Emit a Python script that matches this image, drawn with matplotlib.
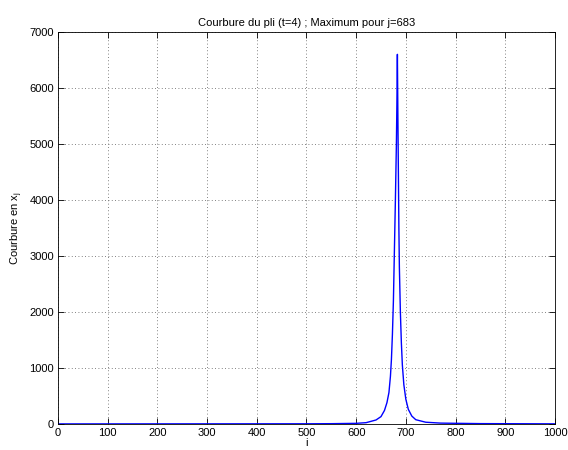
import matplotlib
matplotlib.use('Agg')
import matplotlib.pyplot as plt

# points (index j, curvature)
j_vals = [0, 500, 550, 600, 620, 640, 650, 657, 662, 666, 669, 671, 673, 675, 677,
          679, 681, 682, 683, 684, 685, 686, 687, 689, 691, 693, 696, 700, 705,
          712, 720, 740, 770, 850, 1000]
courbure = [0, 2, 4, 10, 22, 70, 130, 240, 380, 560, 850, 1150, 1600, 2200, 3100,
            4000, 5000, 5700, 6600, 5500, 4500, 3500, 2800, 2000, 1450, 1050, 700, 440, 260,
            140, 75, 30, 14, 5, 1]

x_ticks = [0, 100, 200, 300, 400, 500, 600, 700, 800, 900, 1000]
y_ticks = [0, 1000, 2000, 3000, 4000, 5000, 6000, 7000]

plt.rcParams['font.family'] = ['Liberation Sans', 'DejaVu Sans']
plt.rcParams['font.size'] = 8

fig = plt.figure(figsize=(5.68, 4.5), dpi=100)
ax = fig.add_axes([0.102, 0.058, 0.875, 0.871])
ax.plot(j_vals, courbure, color='blue', linewidth=1.0)
ax.set_xlim(0, 1000)
ax.set_ylim(0, 7000)
ax.set_xticks(x_ticks)
ax.set_yticks(y_ticks)
ax.tick_params(direction='in', length=4, width=0.6, top=True, right=True, pad=3)
ax.grid(True, linestyle=(0, (1, 3)), color='0.35', linewidth=0.6)
for s in ax.spines.values():
    s.set_linewidth(0.6)
ax.set_title('Courbure du pli (t=4) ; Maximum pour j=683', fontsize=8, pad=4)
ax.set_xlabel('i', labelpad=0)
ax.set_ylabel('Courbure en x$_\\mathregular{j}$', labelpad=3)
fig.savefig('out.png', dpi=100)
